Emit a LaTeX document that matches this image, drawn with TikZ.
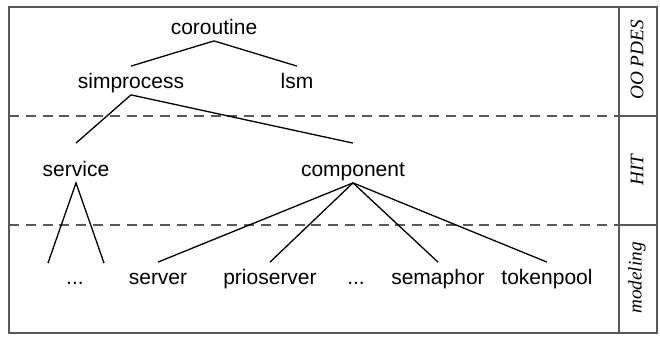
\documentclass[tikz,border=0pt]{standalone}
\usepackage{fontspec}
\setmainfont{Liberation Sans}
\newfontfamily\tierfont{Liberation Serif}

\begin{document}
\begin{tikzpicture}[
  x=0.5pt, y=-0.5pt,
  cls/.style={anchor=base, inner xsep=0pt, inner ysep=3.25pt, text height=7.5pt, text depth=0pt, font=\fontsize{10.5}{12}\selectfont},
  mid/.style={cls, text height=13pt},
  tier/.style={rotate=90, font=\tierfont\itshape\fontsize{9.6}{11}\selectfont},
  link/.style={line width=0.65pt, draw=black},
  frame/.style={line width=0.6pt, draw=black!65},
  layer/.style={line width=0.6pt, draw=black!65, dash pattern=on 5pt off 3.4pt}
]
\useasboundingbox (0,0) rectangle (660,338);

% frame and layers
\draw[frame] (9,7) rectangle (657,333);
\draw[frame] (619,7) -- (619,333);
\draw[frame] (619,116) -- (657,116);
\draw[frame] (619,225) -- (657,225);
\draw[layer] (9,116) -- (619,116);
\draw[layer] (9,225) -- (619,225);

\node[tier] (oopdes) at (637,60) {OO PDES};
\node[tier] (hit) at (637,170) {HIT};
\node[tier] (modeling) at (637,278) {modeling};

% class tree
\node[cls] (coroutine) at (214,34) {coroutine};
\node[cls] (simprocess) at (131,88) {simprocess};
\node[cls] (lsm) at (297,88) {lsm};

\node[mid] (service) at (76,176) {service};
\node[mid] (component) at (353,176) {component};

\node[cls] (dotsA) at (75,284) {...};
\node[cls] (server) at (158,284) {server};
\node[cls] (prioserver) at (270,284) {prioserver};
\node[cls] (dotsB) at (356,284) {...};
\node[cls] (semaphor) at (438,284) {semaphor};
\node[cls] (tokenpool) at (547,284) {tokenpool};

\coordinate (srvL) at (48,263);
\coordinate (srvR) at (104,263);

\draw[link] (coroutine.south) -- (simprocess.north);
\draw[link] (coroutine.south) -- (lsm.north);
\draw[link] (simprocess.south) -- (service.north);
\draw[link] (simprocess.south) -- (component.north);
\draw[link] (srvL) -- (service.south) -- (srvR);
\foreach \leaf in {server,prioserver,semaphor,tokenpool}
  \draw[link] (component.south) -- (\leaf.north);

\end{tikzpicture}
\end{document}
